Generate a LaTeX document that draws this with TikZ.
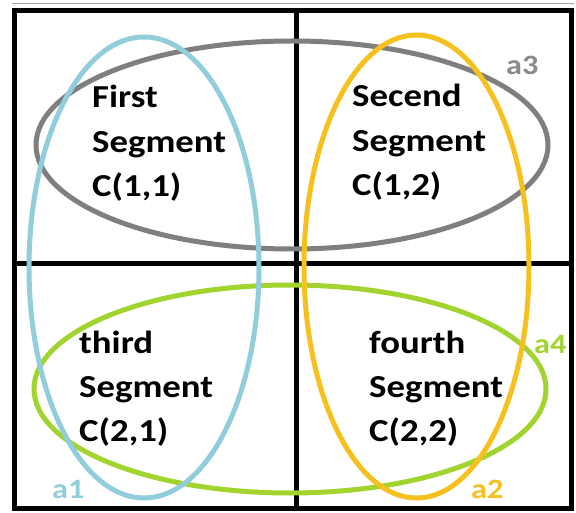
\documentclass[tikz,border=0pt]{standalone}
\usepackage{fontspec}
\setmainfont{Carlito}[FakeStretch=1.15]
\definecolor{cgray}{HTML}{7F7F7F}
\definecolor{cgraytxt}{HTML}{8A8A8A}
\definecolor{cblue}{HTML}{92CDDC}
\definecolor{cyellow}{HTML}{F6C11E}
\definecolor{cgreen}{HTML}{A2D430}
\tikzset{
  frameline/.style={line width=5pt, black},
  ring/.style={line width=5pt},
  seg/.style={font=\fontsize{32}{44.5}\selectfont\bfseries, align=left, inner sep=0pt, anchor=base west},
  lbl/.style={font=\fontsize{28}{30}\selectfont\bfseries, inner sep=0pt, anchor=base west}
}
\begin{document}
\begin{tikzpicture}[x=1pt,y=1pt]
\useasboundingbox (0,0) rectangle (576,-513);
\fill[white] (0,0) rectangle (576,-513);
% thin top line
\draw[line width=1pt, gray!70] (12,-4) -- (574,-4);
% frame
\draw[frameline] (14,-11) rectangle (571,-508);
\coordinate (vt) at (296,-11);
\coordinate (vb) at (296,-508);
\coordinate (hl) at (14,-264);
\coordinate (hr) at (571,-264);
\draw[frameline] (vt) -- (vb);
\draw[frameline] (hl) -- (hr);
% ellipses
\draw[ring, cgray] (292,-145) ellipse [x radius=256, y radius=104];
\draw[ring, cgreen] (290,-389) ellipse [x radius=256, y radius=104];
\draw[ring, cblue] (144,-267.5) ellipse [x radius=115, y radius=230.5];
\draw[ring, cyellow] (416.5,-266.5) ellipse [x radius=112.5, y radius=231.5];
% texts (anchor at baseline of last line)
\node[seg] (s11) at (92,-197) {First\\Segment\\C(1,1)};
\node[seg] (s12) at (352,-196) {Secend\\Segment\\C(1,2)};
\node[seg] (s21) at (79,-442) {third\\Segment\\C(2,1)};
\node[seg] (s22) at (369,-442) {fourth\\Segment\\C(2,2)};
% labels
\node[lbl, text=cgraytxt] (a3) at (506,-75) {a3};
\node[lbl, text=cblue] (a1) at (52,-498) {a1};
\node[lbl, text=cyellow] (a2) at (471,-498) {a2};
\node[lbl, text=cgreen] (a4) at (534,-353) {a4};
\end{tikzpicture}
\end{document}
